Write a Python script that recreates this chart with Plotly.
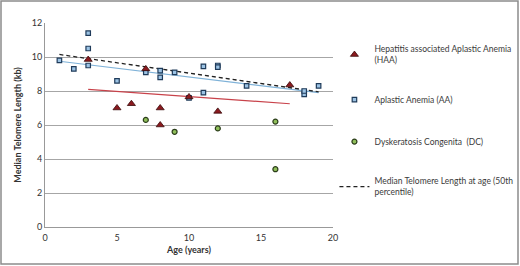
import plotly.graph_objects as go

# ---- data ----
haa_age = [3, 5, 6, 7, 8, 8, 10, 12, 17]
haa_tl = [9.85, 7.0, 7.25, 9.3, 7.0, 6.0, 7.65, 6.8, 8.35]

aa_age = [1, 2, 3, 3, 3, 5, 7, 8, 8, 9, 10, 11, 11, 12, 12, 14, 18, 18, 19]
aa_tl = [9.8, 9.3, 11.4, 10.5, 9.5, 8.6, 9.1, 9.2, 8.8, 9.1, 7.6, 9.45, 7.9, 9.5, 9.4, 8.3, 7.8, 8.0, 8.3]

dc_age = [7, 9, 12, 16, 16]
dc_tl = [6.3, 5.6, 5.8, 6.2, 3.4]

median_age = [1, 19]
median_tl = [10.15, 7.95]

aa_trend_age = [1, 19]
aa_trend_tl = [9.75, 7.9]

haa_trend_age = [3, 17]
haa_trend_tl = [8.1, 7.25]

x_ticks = [0, 5, 10, 15, 20]
y_ticks = [0, 2, 4, 6, 8, 10, 12]

FONT = "Lato"
L, R, T, B = 45, 187, 23, 39
PW, PH = 520 - L - R, 266 - T - B

fig = go.Figure()

fig.add_trace(go.Scatter(x=aa_trend_age, y=aa_trend_tl, mode="lines",
                         line=dict(color="#7fb2d8", width=1.2), showlegend=False, hoverinfo="skip"))
fig.add_trace(go.Scatter(x=haa_trend_age, y=haa_trend_tl, mode="lines",
                         line=dict(color="#c8424a", width=1.2), showlegend=False, hoverinfo="skip"))
fig.add_trace(go.Scatter(x=median_age, y=median_tl, mode="lines",
                         line=dict(color="#222222", width=1.3, dash="4px,3px"),
                         name="Median Telomere Length at age (50th<br>percentile)",
                         legendgroup="d", legendrank=4))
fig.add_trace(go.Scatter(x=aa_age, y=aa_tl, mode="markers",
                         marker=dict(symbol="square", size=4.5, color="#9cc3e4",
                                     line=dict(color="#1f3b5a", width=1.2)),
                         name="Aplastic Anemia (AA)", legendgroup="b", legendrank=2))
fig.add_trace(go.Scatter(x=haa_age, y=haa_tl, mode="markers",
                         marker=dict(symbol="triangle-up", size=7, color="#8b1a1f",
                                     line=dict(color="#3a0a0a", width=0.8)),
                         name="Hepatitis associated Aplastic Anemia<br>(HAA)", legendgroup="a", legendrank=1))
fig.add_trace(go.Scatter(x=dc_age, y=dc_tl, mode="markers",
                         marker=dict(symbol="circle", size=5, color="#8fbf5a",
                                     line=dict(color="#2b3d1a", width=1.2)),
                         name="Dyskeratosis Congenita  (DC)", legendgroup="c", legendrank=3))

fig.update_layout(
    width=520, height=266,
    margin=dict(l=L, r=R, t=T, b=B, autoexpand=False),
    paper_bgcolor="white", plot_bgcolor="white",
    font=dict(family=FONT, size=9, color="#333333"),
    showlegend=True,
    legend=dict(x=(333 - L) / PW + 0.005, y=(266 - B - 37) / PH, xanchor="left", yanchor="top",
                font=dict(family=FONT, size=8.5, color="#3a3a3a"),
                tracegroupgap=23, bgcolor="rgba(0,0,0,0)"),
    xaxis=dict(range=[0, 20], tickvals=x_ticks, showgrid=False, zeroline=False,
               showline=True, linecolor="#999999", linewidth=1, automargin=False,
               ticks="", ticklabelstandoff=2, tickfont=dict(size=9, color="#333333"),
               title=dict(text="<b>Age (years)</b>", font=dict(size=9, color="#333333"), standoff=4)),
    yaxis=dict(range=[0, 12], tickvals=y_ticks, showgrid=True, gridcolor="#a6a6a6", gridwidth=1,
               zeroline=False, showline=True, linecolor="#999999", linewidth=1, automargin=False,
               ticks="", tickfont=dict(size=9, color="#333333"),
               title=dict(text="<b>Median Telomere Length (kb)</b>", font=dict(size=9, color="#333333"), standoff=8)),
    shapes=[dict(type="rect", xref="paper", yref="paper",
                 x0=-(L - 1) / PW, x1=(518 - L) / PW,
                 y0=-(B - 2) / PH, y1=1 + (T - 1) / PH,
                 line=dict(color="#8c8c8c", width=1.5))],
)

fig.write_html("out.html", config={"displayModeBar": False},
               post_script="document.body.style.margin='0';document.body.style.overflow='hidden';")
